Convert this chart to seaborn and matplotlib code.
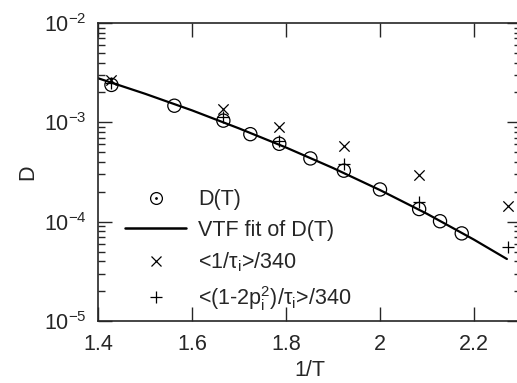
import numpy as np
import pandas as pd
import matplotlib
matplotlib.use('Agg')
import matplotlib.pyplot as plt
import seaborn as sns
from matplotlib.ticker import FixedLocator, FixedFormatter, LogLocator, NullFormatter
from matplotlib.lines import Line2D

# D(T) points
inv_T = [1.4286, 1.5625, 1.6667, 1.7241, 1.7857, 1.8519, 1.9231, 2.0, 2.0833, 2.1277, 2.1739]
D = [2.38e-3, 1.47e-3, 1.04e-3, 7.6e-4, 6.08e-4, 4.33e-4, 3.26e-4, 2.11e-4, 1.34e-4, 1.01e-4, 7.62e-5]

# VTF fit curve
fit_x = [1.40, 1.50, 1.60, 1.70, 1.80, 1.90, 2.00, 2.10, 2.20, 2.27]
fit_D = [2.78e-3, 1.94e-3, 1.32e-3, 8.69e-4, 5.58e-4, 3.47e-4, 2.08e-4, 1.20e-4, 6.59e-5, 4.21e-5]

# <1/tau_i>/340 and <(1-2p_i^2)/tau_i>/340
tau_x = [1.4286, 1.6667, 1.7857, 1.9231, 2.0833, 2.2727]
tau_D = [2.67e-3, 1.37e-3, 9.0e-4, 5.72e-4, 2.94e-4, 1.45e-4]
p_D = [2.49e-3, 1.14e-3, 6.56e-4, 3.8e-4, 1.59e-4, 5.52e-5]

xticks = [1.4, 1.6, 1.8, 2.0, 2.2]
xtick_labels = ['1.4', '1.6', '1.8', '2', '2.2']
yticks = [1e-5, 1e-4, 1e-3, 1e-2]
ytick_labels = ['10$^{\\mathregular{-5}}$', '10$^{\\mathregular{-4}}$',
                '10$^{\\mathregular{-3}}$', '10$^{\\mathregular{-2}}$']

sns.set_style('ticks')
plt.rcParams['font.family'] = ['Liberation Sans', 'DejaVu Sans']
plt.rcParams['mathtext.fontset'] = 'custom'
plt.rcParams['mathtext.rm'] = 'Liberation Sans'
plt.rcParams['font.size'] = 15.5

fig = plt.figure(figsize=(5.17, 3.83), dpi=100)
ax = fig.add_axes([98 / 517, 62 / 383, 423 / 517, 298 / 383])

df_d = pd.DataFrame({'x': inv_T, 'D': D})
df_fit = pd.DataFrame({'x': fit_x, 'D': fit_D})
df_tau = pd.DataFrame({'x': tau_x, 'tau': tau_D, 'p': p_D})

sns.lineplot(data=df_fit, x='x', y='D', color='black', linewidth=1.6, ax=ax)
sns.scatterplot(data=df_d, x='x', y='D', marker='o', s=90, facecolor='none',
                edgecolor='black', linewidth=0.9, ax=ax)
sns.scatterplot(data=df_tau, x='x', y='tau', marker='x', s=55, color='black',
                linewidth=0.9, ax=ax)
sns.scatterplot(data=df_tau, x='x', y='p', marker='+', s=70, color='black',
                linewidth=0.9, ax=ax)

ax.set_yscale('log')
ax.set_xlim(1.4, 2.3)
ax.set_ylim(1e-5, 1e-2)
ax.set_xticks(xticks)
ax.set_xticklabels(xtick_labels)
ax.yaxis.set_major_locator(FixedLocator(yticks))
ax.yaxis.set_major_formatter(FixedFormatter(ytick_labels))
ax.yaxis.set_minor_locator(LogLocator(base=10, subs=np.arange(2, 10), numticks=20))
ax.yaxis.set_minor_formatter(NullFormatter())
ax.tick_params(which='major', direction='in', length=10, width=1, top=True, right=True)
ax.tick_params(axis='x', which='major', pad=9)
ax.tick_params(axis='y', which='major', pad=8)
ax.tick_params(which='minor', direction='in', length=5, width=1, right=True)
for s in ax.spines.values():
    s.set_linewidth(1.2)

ax.set_xlabel('1/T', labelpad=4)
ax.set_ylabel('D', labelpad=4)

handles = [
    (Line2D([], [], marker='o', ls='', mfc='none', mec='black', ms=8.5, mew=0.9),
     Line2D([], [], marker='.', ls='', color='black', ms=2)),
    Line2D([], [], color='black', lw=1.8),
    Line2D([], [], marker='x', ls='', color='black', ms=7.5, mew=0.9),
    Line2D([], [], marker='+', ls='', color='black', ms=8.5, mew=0.9),
]
labels = ['D(T)', 'VTF fit of D(T)', '<1/τ$_\\mathregular{i}$>/340',
          '<(1-2p$_\\mathregular{i}^\\mathregular{2}$)/τ$_\\mathregular{i}$>/340']
ax.legend(handles, labels, loc='center', bbox_to_anchor=(0.461, 0.345),
          bbox_transform=fig.transFigure, frameon=False, borderpad=0,
          handlelength=2.85, handletextpad=0.55, labelspacing=0.45)

fig.savefig('out.png', dpi=100)
